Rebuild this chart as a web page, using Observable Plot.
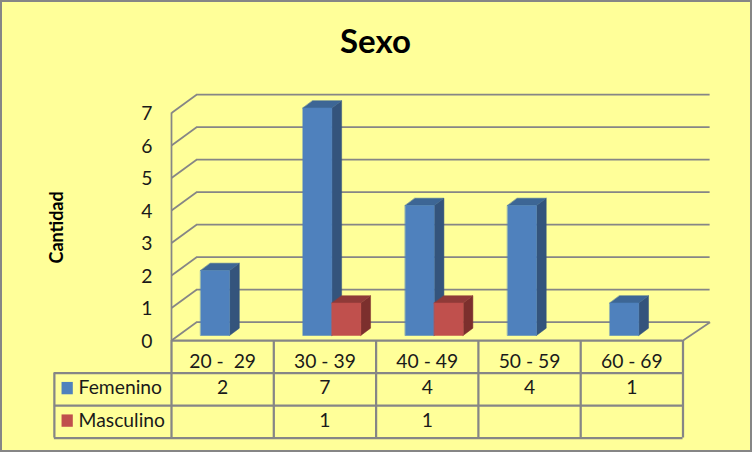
<!DOCTYPE html>
<html><head><meta charset="utf-8">
<script src="https://cdn.jsdelivr.net/npm/d3@7"></script>
<script src="https://cdn.jsdelivr.net/npm/@observablehq/plot@0.6"></script>
<style>html,body{margin:0;padding:0;background:#ffff99}svg{display:block}</style>
</head><body><div id="chart"></div>
<script>
const title = "Sexo";
const yLabel = "Cantidad";
const categories = ["20 -  29", "30 - 39", "40 - 49", "50 - 59", "60 - 69"];
const femenino = [2, 7, 4, 4, 1];
const masculino = [null, 1, 1, null, null];
const yTicks = [0, 1, 2, 3, 4, 5, 6, 7];
const seriesNames = ["Femenino", "Masculino"];

const font = "Lato, Carlito, 'Open Sans', sans-serif";
const ink = "#1a1a1a", grid = "#868686", bg = "#ffff99";
const shades = {
  Femenino: {front: "#4f81bd", side: "#34547c", top: "#3d6695"},
  Masculino: {front: "#c0504d", side: "#7c2f2d", top: "#8f3a38"}
};
// Oblique projection, in data units
const wallDx = 0.245, wallDy = 0.563;
const barDx = 0.095, barDy = 0.225;
const barLift = 0.154, barStart = 0.285, barW = 0.283;
const rows = [0, -1, -2, -3];
const tableLeft = -1.145;

const faces = [];
seriesNames.forEach((name, s) => {
  const values = s === 0 ? femenino : masculino;
  values.forEach((v, i) => {
    if (v == null) return;
    const xl = i + barStart + s * barW, xr = xl + barW;
    const b = barLift, t = v + barLift;
    const poly = (face, pts) => pts.forEach(([x, y]) =>
      faces.push({x, y, id: `${name}${i}${face}`, color: shades[name][face]}));
    poly("side", [[xr, b], [xr + barDx, b + barDy], [xr + barDx, t + barDy], [xr, t]]);
    poly("top", [[xl, t], [xr, t], [xr + barDx, t + barDy], [xl + barDx, t + barDy]]);
    poly("front", [[xl, b], [xr, b], [xr, t], [xl, t]]);
  });
});

const cols = d3.range(categories.length + 1);
const cell = (arr, y) => arr.map((v, i) => ({x: i + 0.5, y, v})).filter(d => d.v != null);
const textBase = {fontFamily: font, fill: ink, fontSize: 19.3};

const plot = Plot.plot({
  width: 752, height: 452,
  marginLeft: 171, marginRight: 69.5, marginTop: 112.5, marginBottom: 112,
  x: {type: "linear", domain: [0, categories.length], axis: null},
  y: {type: "linear", domain: [0, 7], axis: null},
  style: {background: bg, outline: `2px solid ${grid}`, outlineOffset: "-2px", fontFamily: font},
  marks: [
    // walls
    Plot.ruleY(yTicks, {x1: wallDx, x2: categories.length + 0.265, y: d => d + wallDy, stroke: grid, strokeWidth: 1.75}),
    Plot.link(yTicks, {x1: 0, y1: d => d, x2: wallDx, y2: d => d + wallDy, stroke: grid, strokeWidth: 1.75}),
    Plot.link([0], {x1: categories.length, y1: 0, x2: categories.length + 0.265, y2: wallDy, stroke: grid, strokeWidth: 1.75}),
    Plot.ruleX([0], {y1: 0, y2: 7, stroke: grid, strokeWidth: 1.75}),
    // bars
    Plot.line(faces, {x: "x", y: "y", z: "id", fill: "color", stroke: "color", strokeWidth: 0.5, curve: "linear-closed"}),
    // y axis
    Plot.axisY({ticks: yTicks, tickFormat: "d", tickSize: 0, tickPadding: 19, dy: 1, fontSize: 19.3, color: ink, fontFamily: font, label: null}),
    // table
    Plot.ruleY(rows, {x1: d => d === 0 ? 0 : tableLeft, x2: categories.length, y: d => d, stroke: grid, strokeWidth: 2.25}),
    Plot.ruleX(cols, {x: d => d, y1: 0, y2: -3, stroke: grid, strokeWidth: 2.25}),
    Plot.ruleX([tableLeft], {y1: -1, y2: -3, stroke: grid, strokeWidth: 2.25}),
    Plot.text(categories, {x: (d, i) => i + 0.5, y: -0.67, text: d => d, ...textBase}),
    Plot.text(cell(femenino, -1.46), {x: "x", y: "y", text: d => String(d.v), ...textBase}),
    Plot.text(cell(masculino, -2.46), {x: "x", y: "y", text: d => String(d.v), ...textBase}),
    Plot.rect(seriesNames, {x1: -1.07, x2: -0.96, y1: (d, i) => -1.29 - i, y2: (d, i) => -1.67 - i, fill: d => shades[d].front}),
    Plot.text(seriesNames, {x: -0.908, y: (d, i) => -1.46 - i, text: d => d, textAnchor: "start", ...textBase}),
    // titles
    Plot.text([title], {x: 1.994, y: 9.17, text: d => d, fontFamily: font, fontSize: 33, fontWeight: "bold", fill: "#000"}),
    Plot.text([yLabel], {x: -1.114, y: 3.48, text: d => d, rotate: -90, fontFamily: font, fontSize: 18, fontWeight: "bold", fill: "#000"})
  ]
});
document.getElementById("chart").append(plot);
</script>
</body></html>
